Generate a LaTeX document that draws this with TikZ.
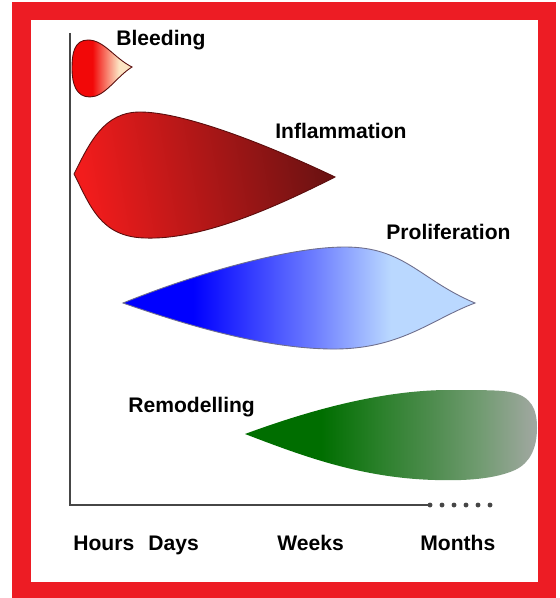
\documentclass[tikz,border=0pt]{standalone}
\usepackage{xcolor}
\usepackage{fontspec}
\setmainfont{Liberation Sans}
\usepackage{tikz}
\definecolor{FrameRed}{RGB}{237,28,36}
\definecolor{AxisGray}{RGB}{70,70,70}
\definecolor{EdgeRed}{RGB}{90,12,12}
\definecolor{EdgeBlue}{RGB}{110,110,140}
\definecolor{BleedRed}{RGB}{242,8,8}
\definecolor{BleedPale}{RGB}{252,228,195}
\definecolor{InflRed}{RGB}{242,28,28}
\definecolor{InflDark}{RGB}{108,18,18}
\definecolor{ProlBlue}{RGB}{0,0,255}
\definecolor{ProlMid}{RGB}{108,124,255}
\definecolor{ProlLight}{RGB}{186,216,255}
\definecolor{RemGreen}{RGB}{0,110,0}
\definecolor{RemMid}{RGB}{42,128,42}
\definecolor{RemSoft}{RGB}{78,140,78}
\definecolor{RemPale}{RGB}{112,155,112}
\definecolor{RemGray}{RGB}{162,168,162}

% horizontal fades (path spans 25bp..75bp)
\pgfdeclarehorizontalshading{bleedshade}{100bp}{color(0bp)=(BleedRed); color(42bp)=(BleedRed);
  color(64bp)=(BleedPale); color(100bp)=(BleedPale)}
\pgfdeclarehorizontalshading{prolshade}{100bp}{color(0bp)=(ProlBlue); color(35bp)=(ProlBlue);
  color(52bp)=(ProlMid); color(63bp)=(ProlLight); color(100bp)=(ProlLight)}
\pgfdeclarehorizontalshading{remshade}{100bp}{color(0bp)=(RemGreen); color(38bp)=(RemGreen);
  color(48bp)=(RemMid); color(57bp)=(RemSoft); color(65bp)=(RemPale); color(75bp)=(RemGray);
  color(100bp)=(RemGray)}

\tikzset{
  phase/.style={font=\bfseries\fontsize{12}{14}\selectfont, anchor=base west, inner sep=0pt},
  axisline/.style={AxisGray, line width=1.1pt}
}

\begin{document}
\begin{tikzpicture}[x=0.02cm, y=-0.02cm]
  \useasboundingbox (0,0) rectangle (559,598);
  \fill[white] (0,0) rectangle (559,598);

  % frame
  \fill[FrameRed] (12,2) rectangle (556,598);
  \fill[white] (31,20) rectangle (538,582);

  % Bleeding
  \draw[EdgeRed, line width=0.5pt, shading=bleedshade]
    (132,67) .. controls (114,58) and (104,40) .. (88,40)
    .. controls (74,40) and (72,54) .. (72,68)
    .. controls (72,84) and (76,97) .. (90,97)
    .. controls (105,97) and (116,77) .. (132,67) -- cycle;

  % Inflammation
  \draw[EdgeRed, line width=0.5pt, left color=InflRed, right color=InflDark, shading angle=100]
    (74,174) .. controls (90,142) and (104,112) .. (140,112)
    .. controls (185,112) and (270,146) .. (335,177)
    .. controls (270,210) and (200,240) .. (145,238)
    .. controls (100,237) and (90,205) .. (74,174) -- cycle;

  % Proliferation
  \draw[EdgeBlue, line width=0.5pt, shading=prolshade]
    (123,303) .. controls (200,272) and (290,247) .. (345,247)
    .. controls (405,247) and (420,280) .. (475,303)
    .. controls (430,320) and (400,350) .. (330,349)
    .. controls (270,348) and (200,330) .. (123,303) -- cycle;

  % Remodelling
  \shade[shading=remshade]
    (245,434) .. controls (310,410) and (380,391) .. (445,390)
    .. controls (480,390) and (500,390) .. (510,392)
    .. controls (532,396) and (537,410) .. (537,428)
    .. controls (537,448) and (530,463) .. (515,470)
    .. controls (495,479) and (465,481) .. (435,480)
    .. controls (360,478) and (300,455) .. (245,434) -- cycle;

  % axes
  \coordinate (ytop) at (70,33);
  \coordinate (origin) at (70,505);
  \coordinate (xend) at (430,505);
  \draw[axisline] (ytop) -- (origin) -- (xend);
  \foreach \d in {0,...,5}{
    \fill[AxisGray] (430+\d*12,505) circle (1.4pt);
  }

  % phase labels
  \node[phase] (bleeding) at (116,46) {Bleeding};
  \node[phase] (inflammation) at (275,138) {Inflammation};
  \node[phase] (proliferation) at (386,239) {Proliferation};
  \node[phase] (remodelling) at (128,412) {Remodelling};

  % time labels
  \node[phase] (hours) at (73,550) {Hours};
  \node[phase] (days) at (148,550) {Days};
  \node[phase] (weeks) at (277,550) {Weeks};
  \node[phase] (months) at (420,550) {Months};
\end{tikzpicture}
\end{document}
